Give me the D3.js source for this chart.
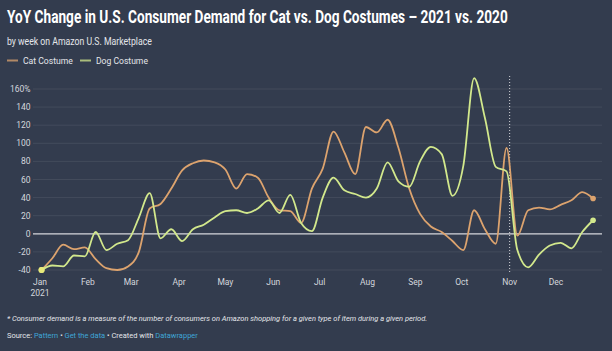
<!DOCTYPE html>
<meta charset="utf-8" />
<style>
  body { margin: 0; background: #333c4e; }
  svg { display: block; font-family: Roboto, "Noto Sans", sans-serif; }
</style>
<body>
  <script src="https://d3js.org/d3.v7.min.js"></script>
  <script>
    // weekly values, % change vs 2020
    const cat = [-40, -27, -12, -17, -15, -28, -38, -40, -36, -20, 28, 33, 50, 70, 78, 81, 79, 71,
      50, 66, 62, 40, 26, 25, 12, 50, 72, 113, 90, 66, 118, 112, 126, 95, 50, 22, 8, 2, -8, -18,
      26, 5, -11, 95, -2, 26, 29, 27, 32, 37, 46, 39];
    const dog = [-40, -35, -36, -24, -25, 2, -18, -11, -7, 18, 45, -5, 5, -8, 5, 10, 18, 25,
      26, 23, 28, 37, 23, 43, 12, 3, 40, 62, 48, 44, 40, 50, 79, 58, 52, 80, 96, 88, 42, 75,
      172, 128, 74, 69, -18, -37, -23, -13, -10, -16, 2, 15];
    const yTicks = [-40, -20, 0, 20, 40, 60, 80, 100, 120, 140, 160];
    const monthLabels = ["Jan", "Feb", "Mar", "Apr", "May", "Jun", "Jul", "Aug", "Sep", "Oct", "Nov", "Dec"];

    const W = 612, H = 351;
    const dates = cat.map((d, i) => d3.timeDay.offset(new Date(2021, 0, 2), 7 * i));

    const svg = d3.select("body").append("svg").attr("width", W).attr("height", H);

    const x = d3.scaleTime()
      .domain([new Date(2021, 0, 1), new Date(2021, 11, 1)])
      .range([40, 556]);
    const y = d3.scaleLinear().domain([-40, 160]).range([270, 89]);

    // squeeze a text horizontally so it spans a given width
    function fitText(px, py, width, size, attrs) {
      const g = svg.append("g");
      const t = g.append("text").attr("font-size", size).attr("fill", "#e4e6ea");
      Object.entries(attrs || {}).forEach(([k, v]) => t.attr(k, v));
      return { g, t, fit() {
        const len = t.node().getComputedTextLength();
        g.attr("transform", `translate(${px},${py}) scale(${width / len},1)`);
      } };
    }

    // title block
    const title = fitText(7, 22.5, 501, 17.5, { "font-weight": 700, fill: "#ffffff" });
    title.t.text("YoY Change in U.S. Consumer Demand for Cat vs. Dog Costumes \u2013 2021 vs. 2020");
    title.fit();
    const sub = fitText(7, 45, 145, 10.5);
    sub.t.text("by week on Amazon U.S. Marketplace");
    sub.fit();

    // legend
    const legend = [
      { name: "Cat Costume", color: "#dca36e", x: 7, w: 50 },
      { name: "Dog Costume", color: "#d2e88c", x: 80, w: 52 }
    ];
    legend.forEach(l => {
      svg.append("line").attr("x1", l.x).attr("x2", l.x + 11).attr("y1", 60.5).attr("y2", 60.5)
        .attr("stroke", l.color).attr("stroke-width", 2).attr("opacity", 0.75);
      const lt = fitText(l.x + 16, 63.5, l.w, 8.5);
      lt.t.text(l.name);
      lt.fit();
    });

    // grid
    svg.append("g").selectAll("line").data(yTicks).join("line")
      .attr("x1", 33).attr("x2", 602)
      .attr("y1", d => y(d)).attr("y2", d => y(d))
      .attr("stroke", d => d === 0 ? "#e8e8ec" : "#ffffff")
      .attr("stroke-opacity", d => d === 0 ? 0.9 : 0.08)
      .attr("stroke-width", d => d === 0 ? 1.2 : 1);

    svg.append("g").selectAll("text").data(yTicks).join("text")
      .attr("x", 30.5).attr("y", d => y(d) + 3)
      .attr("text-anchor", "end").attr("fill", "#d4d7dd").attr("font-size", 8.5)
      .text(d => d === 160 ? "160%" : d);

    // month labels
    const months = d3.timeMonth.range(new Date(2021, 0, 1), new Date(2022, 0, 1));
    svg.append("g").selectAll("text").data(months).join("text")
      .attr("x", d => x(d)).attr("y", 285)
      .attr("text-anchor", "middle").attr("fill", "#d4d7dd").attr("font-size", 8.5)
      .text((d, i) => monthLabels[i]);
    svg.append("text").attr("x", x(months[0])).attr("y", 296)
      .attr("text-anchor", "middle").attr("fill", "#d4d7dd").attr("font-size", 8.5)
      .text("2021");

    // Nov marker
    svg.append("line")
      .attr("x1", x(new Date(2021, 10, 1))).attr("x2", x(new Date(2021, 10, 1)))
      .attr("y1", 76).attr("y2", 272)
      .attr("stroke", "#ffffff").attr("stroke-opacity", 0.8)
      .attr("stroke-width", 1).attr("stroke-dasharray", "1,2");

    // lines
    const line = d3.line()
      .x((d, i) => x(dates[i]))
      .y(d => y(d))
      .curve(d3.curveMonotoneX);

    [[cat, legend[0].color], [dog, legend[1].color]].forEach(([vals, c]) => {
      svg.append("path").datum(vals)
        .attr("fill", "none").attr("stroke", c).attr("stroke-width", 1.8)
        .attr("d", line);
      svg.append("circle")
        .attr("cx", x(dates[0])).attr("cy", y(vals[0])).attr("r", 3).attr("fill", "#e8ea7a");
      svg.append("circle")
        .attr("cx", x(dates[vals.length - 1])).attr("cy", y(vals[vals.length - 1]))
        .attr("r", 2.8).attr("fill", c);
    });

    // footer
    const note = fitText(7, 321, 421, 8, { "font-style": "italic" });
    note.t.text("* Consumer demand is a measure of the number of consumers on Amazon shopping for a given type of item during a given period.");
    note.fit();

    const src = fitText(7, 337.5, 191, 8);
    src.t.append("tspan").text("Source: ");
    src.t.append("tspan").attr("fill", "#3fa6d6").text("Pattern");
    src.t.append("tspan").text(" \u2022 ");
    src.t.append("tspan").attr("fill", "#3fa6d6").text("Get the data");
    src.t.append("tspan").text(" \u2022 Created with ");
    src.t.append("tspan").attr("fill", "#3fa6d6").text("Datawrapper");
    src.fit();
  </script>
</body>
